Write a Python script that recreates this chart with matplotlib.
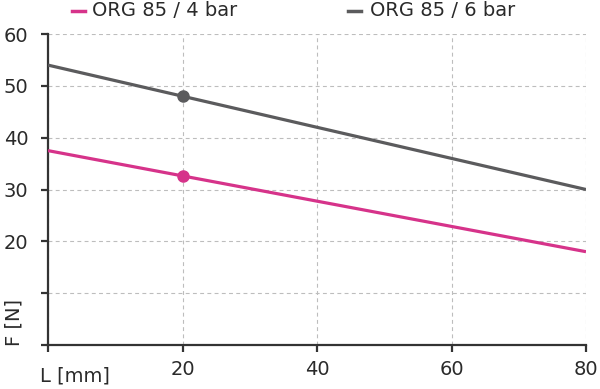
import matplotlib
matplotlib.use("Agg")
import matplotlib.pyplot as plt

plt.rcParams['font.family'] = ['DejaVu Sans']

series_names = ["ORG 85 / 4 bar", "ORG 85 / 6 bar"]
x_vals = [0, 80]
pink_vals = [37.5, 18.0]
gray_vals = [54.0, 30.0]
marker_x = 20
pink_marker = 32.6
gray_marker = 48.0
colors = ["#d6338a", "#5b5b5d"]
x_ticks = [0, 20, 40, 60, 80]
x_ticklabels = ["", "20", "40", "60", "80"]
y_ticks = [0, 10, 20, 30, 40, 50, 60]
y_ticklabels = ["", "", "20", "30", "40", "50", "60"]

fig = plt.figure(figsize=(6, 3.89), dpi=100)
ax = fig.add_axes([48/600, 1-345/389, (586-48)/600, (345-34)/389])

ax.plot(x_vals, pink_vals, color=colors[0], lw=2.3, solid_capstyle='butt', zorder=3)
ax.plot(x_vals, gray_vals, color=colors[1], lw=2.3, solid_capstyle='butt', zorder=3)
ax.plot([marker_x], [pink_marker], 'o', color=colors[0], ms=8, zorder=4)
ax.plot([marker_x], [gray_marker], 'o', color=colors[1], ms=8, zorder=4)

ax.set_xlim(0, 80)
ax.set_ylim(0, 60)
ax.set_xticks(x_ticks)
ax.set_xticklabels(x_ticklabels)
ax.set_yticks(y_ticks)
ax.set_yticklabels(y_ticklabels)
ax.grid(True, color="#bdbdbd", linestyle=(0, (3.5, 3)), lw=0.8)
ax.set_axisbelow(True)
for s in ["top", "right"]:
    ax.spines[s].set_visible(False)
for s in ["left", "bottom"]:
    ax.spines[s].set_color("#333333")
    ax.spines[s].set_linewidth(1.6)
ax.tick_params(axis='both', direction='out', length=5, width=1.6, color="#333333",
               labelsize=14, labelcolor="#2a2a2a")
ax.tick_params(axis='y', pad=9)
ax.tick_params(axis='x', pad=6)

fig.text(40/600, 1-376/389, "L [mm]", fontsize=14, color="#2a2a2a", ha='left', va='center')
fig.text(14/600, 1-322/389, "F [N]", fontsize=14, color="#2a2a2a", rotation=90, ha='center', va='center')

# legend
for i, (xs, xt) in enumerate([(72, 92), (348, 370)]):
    fig.add_artist(plt.Line2D([xs/600, (xs+13)/600], [1-11/389, 1-11/389], color=colors[i], lw=2.5))
    fig.text(xt/600, 1-11/389, series_names[i], fontsize=14, color="#2a2a2a", ha='left', va='center')

fig.savefig("out.png", dpi=100)
